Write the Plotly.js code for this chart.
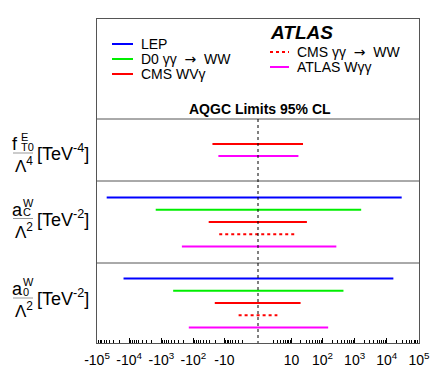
<!DOCTYPE html>
<html>
<head>
<meta charset="utf-8">
<script src="https://cdn.plot.ly/plotly-3.0.1.min.js"></script>
<style>
  html, body { margin: 0; padding: 0; background: #fff; }
  #chart { width: 442px; height: 382px; }
</style>
</head>
<body>
<div id="chart"></div>
<script>
// experiments, in the order they are stacked inside a panel
const seriesNames = ['LEP', 'D0 γγ → WW', 'CMS WVγ', 'CMS γγ → WW', 'ATLAS Wγγ'];
const seriesColors = ['#0000ff', '#00ee00', '#ff0000', '#ff0000', '#ff00ff'];
const seriesDash = ['solid', 'solid', 'solid', 'dot', 'solid'];

// 95% CL limits per coupling (null = no result)
const fT0Low  = [null, null, -25, null, -16];
const fT0High = [null, null, 24, null, 17];
const aCLow   = [-50000, -1500, -33, -15, -230];
const aCHigh  = [29000, 1600, 32, 15, 270];
const a0Low   = [-15000, -430, -21, -3, -140];
const a0High  = [16000, 450, 20, 3, 150];

// symmetric log axis: decades and their labels
const tickDecades = [-5, -4, -3, -2, -1, 1, 2, 3, 4, 5];
const tickLabels = ['-10<sup>5</sup>', '-10<sup>4</sup>', '-10<sup>3</sup>', '-10<sup>2</sup>', '-10',
                    '10', '10<sup>2</sup>', '10<sup>3</sup>', '10<sup>4</sup>', '10<sup>5</sup>'];

const FONT = 'Liberation Sans, Arial, Helvetica, sans-serif';
const M = { l: 97, r: 23, t: 19, b: 39 };
const plotW = 442 - M.l - M.r;
const plotH = 382 - M.t - M.b;

// y axis runs in pixels from the top of the frame
const panelEdges = [100, 162, 244, plotH];
const rowStep = 12.2;

function symlog(v) {
    return Math.sign(v) * Math.log10(1 + Math.abs(v));
}
const X = px => (px - M.l) / plotW;   // page pixel -> paper x
const Y = py => py - M.t;             // page pixel -> y axis

const panels = [
    { low: fT0Low, high: fT0High },
    { low: aCLow, high: aCHigh },
    { low: a0Low, high: a0High }
];

const traces = [];
panels.forEach((p, k) => {
    const idx = seriesNames.map((_, i) => i).filter(i => p.low[i] !== null);
    const centre = (panelEdges[k] + panelEdges[k + 1]) / 2;
    idx.forEach((i, r) => {
        const y = centre + (r - (idx.length - 1) / 2) * rowStep;
        traces.push({
            x: [symlog(p.low[i]), symlog(p.high[i])],
            y: [y, y],
            type: 'scatter',
            mode: 'lines',
            name: seriesNames[i],
            showlegend: false,
            hoverinfo: 'skip',
            line: { color: seriesColors[i], width: 2, dash: seriesDash[i] }
        });
    });
});

// minor ticks 2..9 in each decade, both signs
const minorVals = [];
for (let d = 0; d < 5; d++) {
    for (let m = 2; m < 10; m++) {
        minorVals.push(symlog(m * Math.pow(10, d)), symlog(-m * Math.pow(10, d)));
    }
}

const shapes = [];
const annotations = [];

// panel separators
panelEdges.slice(0, 3).forEach(e => {
    shapes.push({ type: 'line', xref: 'paper', yref: 'y', x0: 0, x1: 1, y0: e, y1: e,
                  line: { color: '#555', width: 1 } });
});
// zero line
shapes.push({ type: 'line', xref: 'x', yref: 'y', x0: 0, x1: 0, y0: panelEdges[0], y1: plotH,
              line: { color: '#000', width: 1, dash: 'dot' } });

// legend, two columns
const legendPos = [
    { x: 112, y: 44 }, { x: 112, y: 59 }, { x: 112, y: 74 },
    { x: 270, y: 52 }, { x: 270, y: 67 }
];
const legendLen = [21, 21, 21, 19, 19];
const arrow = '<span style="font-family:DejaVu Sans">→</span>';
seriesNames.forEach((name, i) => {
    const p = legendPos[i];
    shapes.push({ type: 'line', xref: 'paper', yref: 'y',
                  x0: X(p.x), x1: X(p.x + legendLen[i]), y0: Y(p.y), y1: Y(p.y),
                  line: { color: seriesColors[i], width: 2, dash: seriesDash[i] } });
    annotations.push({ xref: 'paper', yref: 'y', x: X(p.x + legendLen[i] + 6), y: Y(p.y),
                       xanchor: 'left', yanchor: 'middle', showarrow: false,
                       text: name.replace(' → ', '  ' + arrow + '  '),
                       font: { family: FONT, size: 14, color: '#000' } });
});
annotations.push({ xref: 'paper', yref: 'y', x: X(268), y: Y(32), xanchor: 'left', yanchor: 'middle',
                   showarrow: false, text: '<b><i>ATLAS</i></b>',
                   font: { family: FONT, size: 19, color: '#000' } });
annotations.push({ xref: 'x', yref: 'y', x: 0.05, y: Y(109), xanchor: 'center', yanchor: 'middle',
                   showarrow: false, text: '<b>AQGC Limits 95% CL</b>',
                   font: { family: FONT, size: 14, color: '#000' } });

// coupling labels drawn as fractions
const labels = [
    { line: 153, sym: 'f', symW: 8, sup: 'E', sub: 'T0', pow: '4' },
    { line: 218.5, sym: 'a', symW: 10, sup: 'W', sub: 'C', pow: '2' },
    { line: 298, sym: 'a', symW: 10, sup: 'W', sub: '0', pow: '2' }
];
labels.forEach(l => {
    const t = (x, y, text, size) => annotations.push({
        xref: 'paper', yref: 'y', x: X(x), y: Y(y), xanchor: 'left', yanchor: 'middle',
        showarrow: false, text: text, font: { family: FONT, size: size, color: '#000' }
    });
    shapes.push({ type: 'line', xref: 'paper', yref: 'y', x0: X(13), x1: X(33),
                  y0: Y(l.line), y1: Y(l.line), line: { color: '#999', width: 1 } });
    t(10, l.line - 9, l.sym, 18);
    t(11 + l.symW, l.line - 16, l.sup, 11);
    t(11 + l.symW, l.line - 6.5, l.sub, 11);
    t(13, l.line + 12, 'Λ<sup>' + l.pow + '</sup>', 17);
    t(35, l.line - 0.5, '[TeV<sup>-' + l.pow + '</sup>]', 18);
});

const layout = {
    width: 442,
    height: 382,
    margin: M,
    paper_bgcolor: '#fff',
    plot_bgcolor: '#fff',
    showlegend: false,
    font: { family: FONT, color: '#000' },
    xaxis: {
        range: [-5, 5],
        tickmode: 'array',
        tickvals: tickDecades.map(d => symlog(Math.sign(d) * Math.pow(10, Math.abs(d)))),
        ticktext: tickLabels,
        ticks: 'inside',
        ticklen: 5,
        tickcolor: '#000',
        ticklabelstandoff: 4,
        tickfont: { family: FONT, size: 14, color: '#000' },
        minor: { tickvals: minorVals, ticks: 'inside', ticklen: 3, tickcolor: '#000', showgrid: false },
        showgrid: false,
        zeroline: false,
        showline: true,
        mirror: true,
        linecolor: '#555',
        linewidth: 1
    },
    yaxis: {
        range: [plotH, 0],
        showticklabels: false,
        ticks: '',
        showgrid: false,
        zeroline: false,
        showline: true,
        mirror: true,
        linecolor: '#555',
        linewidth: 1
    },
    shapes: shapes,
    annotations: annotations
};

Plotly.newPlot('chart', traces, layout, { displayModeBar: false, staticPlot: true });
</script>
</body>
</html>
